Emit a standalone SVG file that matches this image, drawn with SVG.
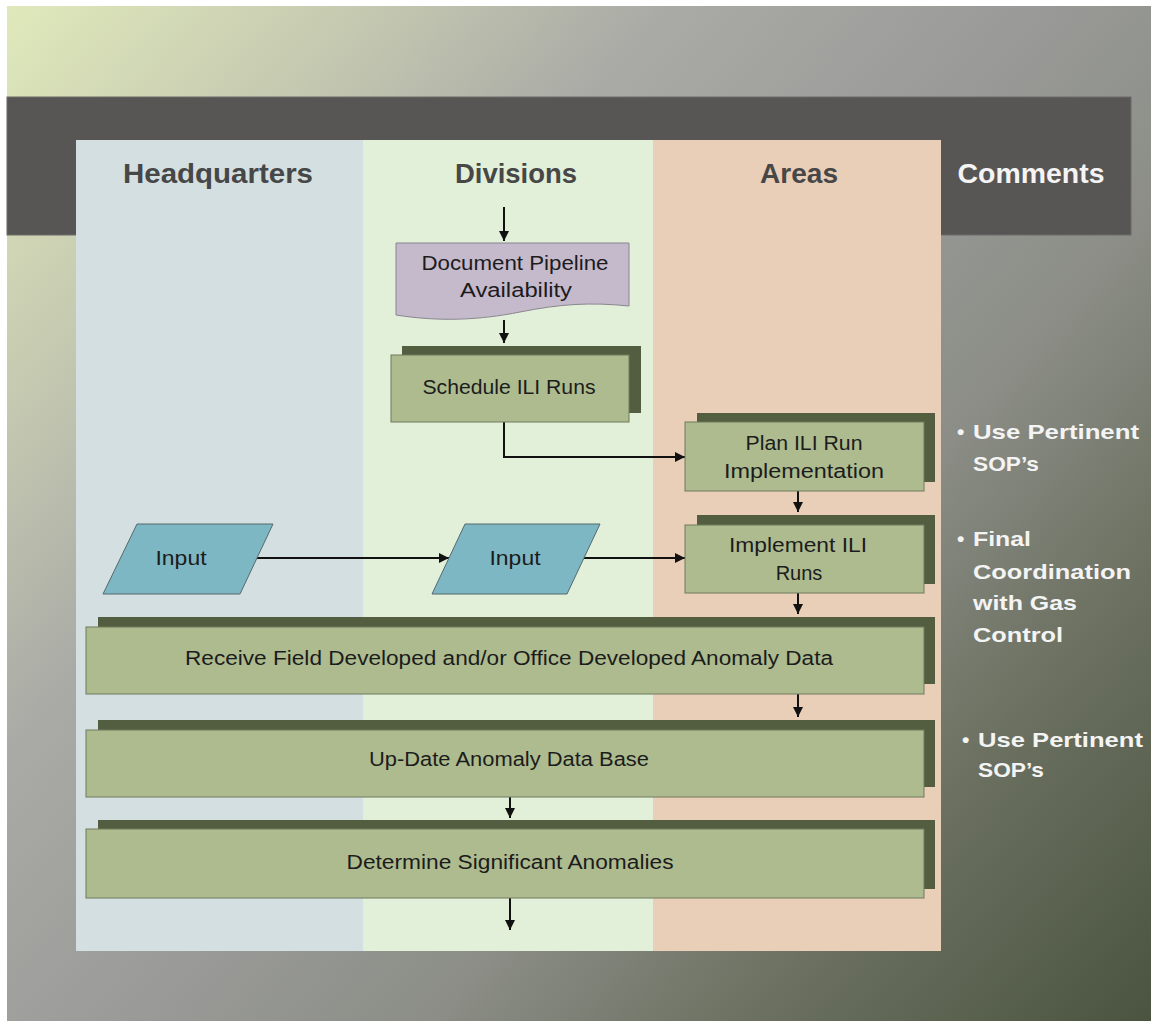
<svg xmlns="http://www.w3.org/2000/svg" width="1151" height="1021" viewBox="0 0 1151 1021">
<defs>
<linearGradient id="bg" gradientUnits="userSpaceOnUse" x1="7" y1="6" x2="1151" y2="1021">
<stop offset="0" stop-color="#e0e9bb"/>
<stop offset="0.18" stop-color="#c4c8b0"/>
<stop offset="0.32" stop-color="#aaaba6"/>
<stop offset="0.5" stop-color="#9a9b98"/>
<stop offset="0.65" stop-color="#8b8d86"/>
<stop offset="0.8" stop-color="#6c7161"/>
<stop offset="1" stop-color="#4a5440"/>
</linearGradient>
<marker id="ah" markerUnits="userSpaceOnUse" markerWidth="10" markerHeight="10" refX="10" refY="5" orient="auto">
<path d="M0,0 L10,5 L0,10 z" fill="#111"/>
</marker>
<style>
.hdr{font-family:"Liberation Sans",Arial,sans-serif;font-weight:bold;font-size:28px;fill:#474747;text-anchor:middle}
.hdrw{fill:#f4f4f4}
.t{font-family:"Liberation Sans",Arial,sans-serif;font-size:20px;fill:#1c1c1c;text-anchor:middle}
.cm{font-family:"Liberation Sans",Arial,sans-serif;font-weight:bold;font-size:21px;fill:#f4f4f4}
.sh{fill:#525e3f}
.bx{fill:#adbb8f;stroke:#6f7a5c;stroke-width:1}
.inp{fill:#7db7c4;stroke:#56696c;stroke-width:1}
.doc{fill:#c5b9cc;stroke:#8a8590;stroke-width:1}
.cn{fill:none;stroke:#111;stroke-width:2;marker-end:url(#ah)}
</style>
</defs>
<rect x="0" y="0" width="1151" height="1021" fill="#ffffff"/>
<rect x="7" y="6" width="1144" height="1015" fill="url(#bg)"/>
<rect x="7" y="97" width="1124" height="138" fill="#585654" stroke="#6c6a68" stroke-width="1"/>
<g id="lanes">
<rect x="76" y="140" width="287" height="811" fill="#d3dfe0"/>
<rect x="363" y="140" width="290" height="811" fill="#e2efd9"/>
<rect x="653" y="140" width="288" height="811" fill="#eacfb8"/>
</g>
<g id="headers">
<text class="hdr" x="218" y="183" textLength="190" lengthAdjust="spacingAndGlyphs">Headquarters</text>
<text class="hdr" x="516" y="183" textLength="122" lengthAdjust="spacingAndGlyphs">Divisions</text>
<text class="hdr" x="799" y="183" textLength="78" lengthAdjust="spacingAndGlyphs">Areas</text>
<text class="hdr hdrw" x="1031" y="183" textLength="147" lengthAdjust="spacingAndGlyphs">Comments</text>
</g>
<g id="connectors">
<line class="cn" x1="504" y1="207" x2="504" y2="241"/>
<line class="cn" x1="504" y1="320" x2="504" y2="343"/>
<polyline class="cn" points="504,422 504,457 685,457"/>
<line class="cn" x1="798" y1="491" x2="798" y2="512"/>
<line class="cn" x1="257" y1="558" x2="449" y2="558"/>
<line class="cn" x1="584" y1="558" x2="685" y2="558"/>
<line class="cn" x1="798" y1="593" x2="798" y2="614"/>
<line class="cn" x1="798" y1="694" x2="798" y2="717"/>
<line class="cn" x1="510" y1="797" x2="510" y2="818"/>
<line class="cn" x1="510" y1="898" x2="510" y2="930"/>
</g>
<g id="doc">
<path class="doc" d="M396,243 H629 V306 C590,302 560,304 520,312 C480,320 440,322 396,315 Z"/>
<text class="t" x="515" y="270" textLength="187" lengthAdjust="spacingAndGlyphs">Document Pipeline</text>
<text class="t" x="516" y="297" textLength="112" lengthAdjust="spacingAndGlyphs">Availability</text>
</g>
<g id="schedule">
<rect class="sh" x="402" y="346" width="239" height="67"/>
<rect class="bx" x="391" y="355" width="238" height="67"/>
<text class="t" x="509" y="394" textLength="173" lengthAdjust="spacingAndGlyphs">Schedule ILI Runs</text>
</g>
<g id="plan">
<rect class="sh" x="697" y="413" width="238" height="69"/>
<rect class="bx" x="685" y="422" width="239" height="69"/>
<text class="t" x="804" y="450" textLength="117" lengthAdjust="spacingAndGlyphs">Plan ILI Run</text>
<text class="t" x="804" y="478" textLength="160" lengthAdjust="spacingAndGlyphs">Implementation</text>
</g>
<g id="implement">
<rect class="sh" x="697" y="515" width="238" height="69"/>
<rect class="bx" x="685" y="525" width="239" height="68"/>
<text class="t" x="798" y="552" textLength="138" lengthAdjust="spacingAndGlyphs">Implement ILI</text>
<text class="t" x="799" y="580">Runs</text>
</g>
<g id="input-hq">
<polygon class="inp" points="137,524 273,524 240,594 103,594"/>
<text class="t" x="181" y="565" textLength="51" lengthAdjust="spacingAndGlyphs">Input</text>
</g>
<g id="input-div">
<polygon class="inp" points="465,524 600,524 567,594 432,594"/>
<text class="t" x="515" y="565" textLength="51" lengthAdjust="spacingAndGlyphs">Input</text>
</g>
<g id="receive">
<rect class="sh" x="98" y="617" width="837" height="67"/>
<rect class="bx" x="86" y="627" width="838" height="67"/>
<text class="t" x="509" y="665" textLength="648" lengthAdjust="spacingAndGlyphs">Receive Field Developed and/or Office Developed Anomaly Data</text>
</g>
<g id="update">
<rect class="sh" x="98" y="720" width="837" height="67"/>
<rect class="bx" x="86" y="730" width="838" height="67"/>
<text class="t" x="509" y="766" textLength="280" lengthAdjust="spacingAndGlyphs">Up-Date Anomaly Data Base</text>
</g>
<g id="determine">
<rect class="sh" x="98" y="820" width="837" height="69"/>
<rect class="bx" x="86" y="829" width="838" height="69"/>
<text class="t" x="510" y="869" textLength="327" lengthAdjust="spacingAndGlyphs">Determine Significant Anomalies</text>
</g>
<g id="comments">
<text class="cm" x="957" y="439">•</text>
<text class="cm" x="973" y="439" textLength="166" lengthAdjust="spacingAndGlyphs">Use Pertinent</text>
<text class="cm" x="973" y="471" textLength="66" lengthAdjust="spacingAndGlyphs">SOP’s</text>
<text class="cm" x="957" y="546">•</text>
<text class="cm" x="973" y="546" textLength="58" lengthAdjust="spacingAndGlyphs">Final</text>
<text class="cm" x="973" y="579" textLength="158" lengthAdjust="spacingAndGlyphs">Coordination</text>
<text class="cm" x="973" y="610" textLength="104" lengthAdjust="spacingAndGlyphs">with Gas</text>
<text class="cm" x="973" y="642" textLength="90" lengthAdjust="spacingAndGlyphs">Control</text>
<text class="cm" x="962" y="747">•</text>
<text class="cm" x="978" y="747" textLength="165" lengthAdjust="spacingAndGlyphs">Use Pertinent</text>
<text class="cm" x="978" y="777" textLength="66" lengthAdjust="spacingAndGlyphs">SOP’s</text>
</g>
</svg>
